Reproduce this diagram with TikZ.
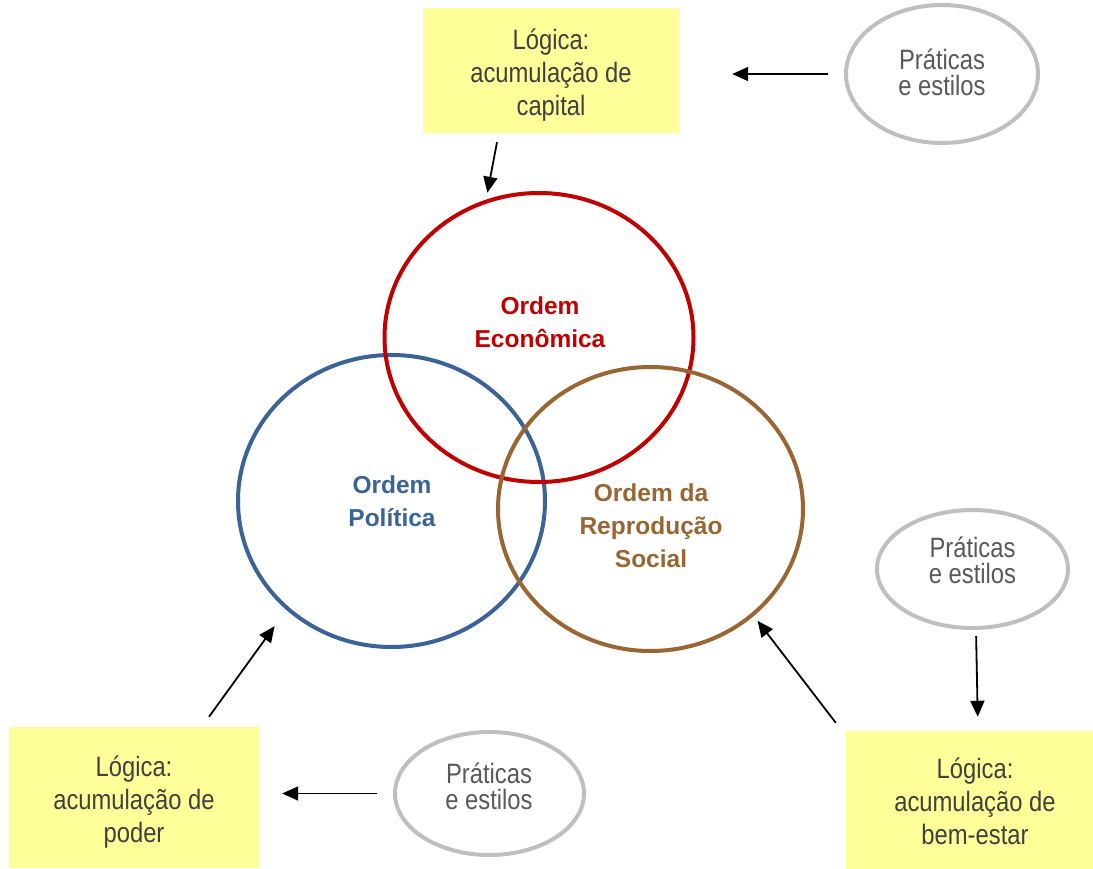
\documentclass[tikz,border=0pt]{standalone}
\usepackage{fontspec}
\setmainfont{Liberation Sans}
\newfontfamily\narrowf[FakeStretch=0.85]{Liberation Sans}
\usetikzlibrary{shapes.geometric,arrows.meta}
\definecolor{ordred}{HTML}{C00000}
\definecolor{ordblue}{HTML}{3A6397}
\definecolor{ordbrown}{HTML}{996633}
\definecolor{boxyellow}{HTML}{FFFF99}
\definecolor{ellgray}{HTML}{BFBFBF}
\definecolor{boxtext}{HTML}{404040}
\definecolor{elltext}{HTML}{595959}
\begin{document}
\begin{tikzpicture}[x=1pt,y=-1pt,
  ordcircle/.style={ellipse, line width=4pt, inner sep=0pt},
  ordlabel/.style={align=center, font=\fontsize{24.5}{33}\selectfont\bfseries, inner sep=0pt},
  ybox/.style={fill=boxyellow, inner sep=0pt},
  boxtxt/.style={align=center, text=boxtext, font=\fontsize{28}{33}\narrowf, inner sep=0pt},
  pell/.style={ellipse, draw=ellgray, line width=4pt, inner sep=0pt},
  elltxt/.style={align=center, text=elltext, font=\fontsize{28}{26}\narrowf, inner sep=0pt},
  arr/.style={line width=1.8pt, -{Triangle[length=16pt,width=14pt]}}
]
\useasboundingbox (0,0) rectangle (1093,869);
\fill[white] (0,0) rectangle (1093,869);

% circles
\node[ordcircle, draw=ordblue, minimum width=307pt, minimum height=292pt] (blue) at (391.5,501) {};
\node[ordcircle, draw=ordred, minimum width=309pt, minimum height=289pt] (red) at (539,337.5) {};
\node[ordcircle, draw=ordbrown, minimum width=305pt, minimum height=284pt] (brown) at (650.5,509) {};

\node[ordlabel, text=ordred] (redlbl) at (540,322.7) {Ordem\\Econômica};
\node[ordlabel, text=ordblue] (bluelbl) at (392,501) {Ordem\\Política};
\node[ordlabel, text=ordbrown] (brownlbl) at (651,526) {Ordem da\\Reprodução\\Social};

% yellow boxes
\node[ybox, minimum width=256pt, minimum height=125pt] (b1) at (551,70.5) {};
\node[boxtxt] (t1) at (551,75) {Lógica:\\acumulação de\\capital};
\node[ybox, minimum width=250pt, minimum height=141pt] (b2) at (134,797.5) {};
\node[boxtxt] (t2) at (134,802) {Lógica:\\acumulação de\\poder};
\node[ybox, minimum width=258pt, minimum height=138pt] (b3) at (975,800) {};
\node[boxtxt] (t3) at (975,801.5) {Lógica:\\acumulação de\\bem-estar};

% gray ellipses
\node[pell, minimum width=192pt, minimum height=138pt] (e1) at (942,74) {};
\node[elltxt] (et1) at (942,72.5) {Práticas\\e estilos};
\node[pell, minimum width=189pt, minimum height=123pt] (e2) at (489.5,793.5) {};
\node[elltxt] (et2) at (489,786.5) {Práticas\\e estilos};
\node[pell, minimum width=191pt, minimum height=118pt] (e3) at (972.5,569) {};
\node[elltxt] (et3) at (972.5,560.5) {Práticas\\e estilos};

% arrows
\draw[arr, shorten <=16pt, shorten >=53pt] (e1.west) -- (e1.west -| b1.east);
\draw[arr, shorten >=7pt] ([xshift=-54pt,yshift=-9pt]b1.south) -- (red.111);
\draw[arr, shorten >=20pt] ([xshift=75pt,yshift=10pt]b2.north) -- (blue.226);
\draw[arr, shorten <=16pt, shorten >=23pt] (e2.west) -- (e2.west -| b2.east);
\draw[arr, shorten <=6pt, shorten >=14pt] ([xshift=3.5pt]e3.south) -- ([xshift=3pt]b3.north);
\draw[arr, shorten >=6pt] ([xshift=-10pt,yshift=8pt]b3.north west) -- (brown.314);
\end{tikzpicture}
\end{document}
